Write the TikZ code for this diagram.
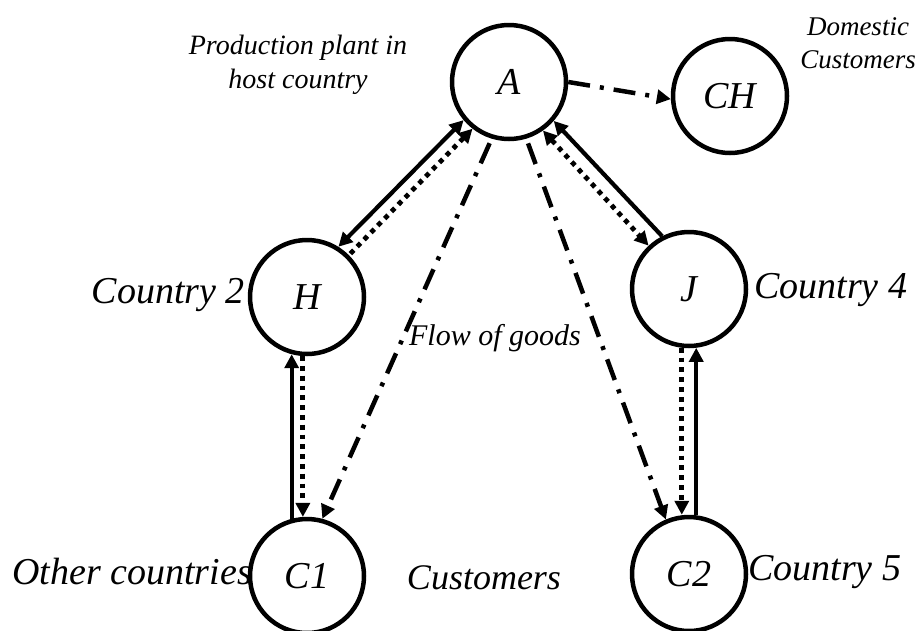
\documentclass[tikz,border=0pt]{standalone}
\usepackage{fontspec}
\setmainfont{Liberation Serif}
\usetikzlibrary{arrows.meta,calc}
\tikzset{
  circnode/.style={circle,draw,line width=4.5pt,minimum size=114pt,inner sep=0pt,fill=white,font=\fontsize{38}{40}\selectfont\itshape},
  lbl/.style={font=\fontsize{38}{40}\selectfont\itshape,inner sep=0pt},
  smlbl/.style={font=\fontsize{28}{34}\selectfont\itshape,inner sep=0pt,align=center},
  solidln/.style={line width=4.2pt},
  dotln/.style={line width=4.8pt,dash pattern=on 4.8pt off 5pt},
  dashdotln/.style={line width=4.5pt,dash pattern=on 22pt off 10pt on 4pt off 10pt},
  tip/.tip={Triangle[length=14pt,width=14pt]}
}
\begin{document}
\begin{tikzpicture}[x=1pt,y=-1pt]
\useasboundingbox (0,0) rectangle (918,630);
% nodes
\node[circnode] (A) at (509,82) {A};
\node[circnode] (CH) at (730,96) {CH};
\node[circnode] (H) at (307,297) {H};
\node[circnode] (J) at (689,289) {J};
\node[circnode] (C1) at (307,576) {C1};
\node[circnode] (C2) at (689,574) {C2};
% labels
\node[smlbl] (lp) at (298,65) {Production plant in\\host country};
\node[font=\fontsize{27}{33}\selectfont\itshape,inner sep=0pt,align=center] (ld) at (858,43) {Domestic\\Customers};
\node[lbl,anchor=east] (l2) at (245,295) {Country 2};
\node[lbl,anchor=west] (l4) at (754,290) {Country 4};
\node[font=\fontsize{30}{34}\selectfont\itshape,inner sep=0pt] (lf) at (495,338) {Flow of goods};
\node[lbl,anchor=east] (lo) at (252,572) {Other countries};
\node[font=\fontsize{36}{38}\selectfont\itshape,inner sep=0pt] (lc) at (484,578) {Customers};
\node[lbl,anchor=west] (l5) at (748,572) {Country 5};
% A - H
\draw[solidln,{tip}-{tip}] (A.220) -- (H.58);
\draw[dotln,{tip}-] (A.232) -- (H.45);
% A - J
\draw[solidln,{tip}-] (A.319) -- (J.117);
\draw[dotln,{tip}-{tip}] (A.305) -- (J.133);
% H - C1
\draw[solidln,{tip}-] (H.255) -- (C1.105);
\draw[dotln,-{tip}] (H.266) -- (C1.94);
% J - C2
\draw[dotln,-{tip}] (J.263) -- (J.263 |- C2.north);
\draw[solidln,{tip}-] (J.277) -- (J.277 |- C2.north);
% flow of goods
\draw[dashdotln,-{tip},shorten <=5pt] (A.253) -- (C1.75);
\draw[dashdotln,-{tip},shorten <=5pt] (A.287) -- (C2.113);
\draw[dashdotln,-{tip}] (A.0) -- (CH.183);
\end{tikzpicture}
\end{document}
